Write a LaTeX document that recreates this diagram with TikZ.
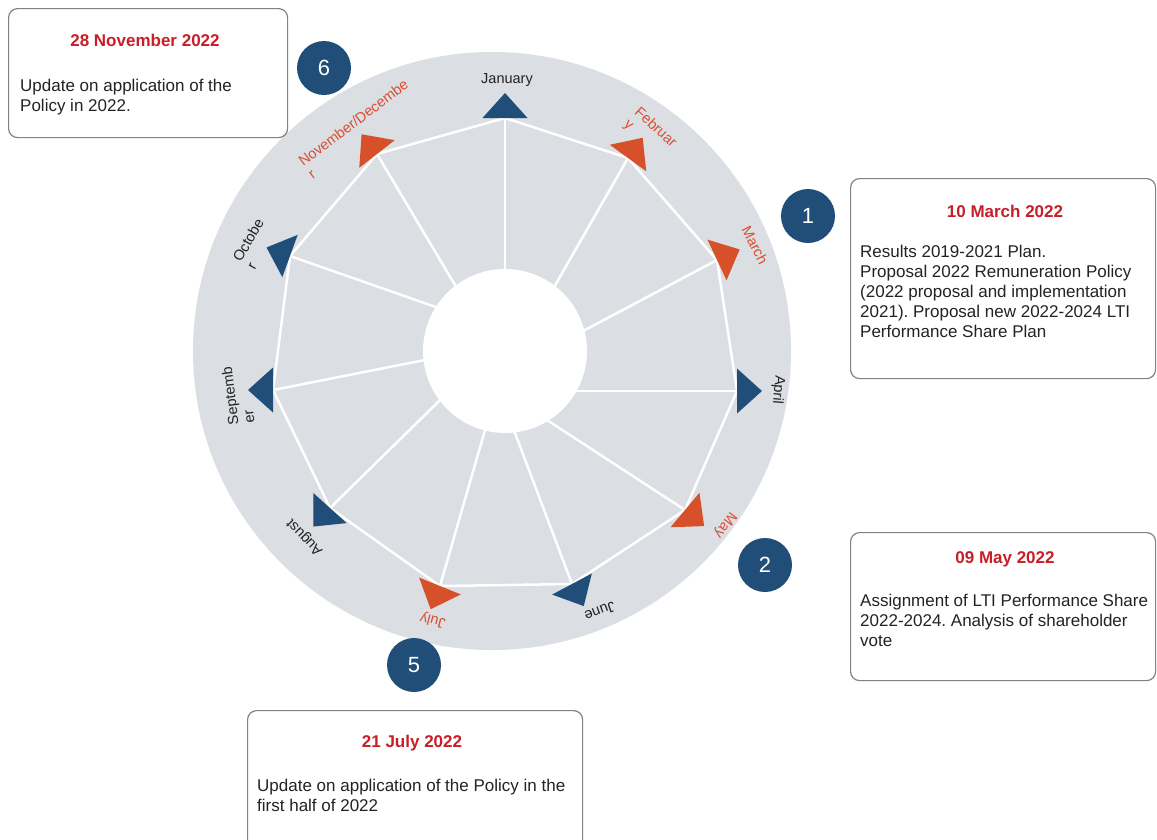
\documentclass[tikz,border=0pt]{standalone}
\usepackage{fontspec}
\setmainfont{Liberation Sans}
\usetikzlibrary{calc}
\frenchspacing
\definecolor{diskgrey}{RGB}{219,222,226}
\definecolor{wblue}{RGB}{33,78,120}
\definecolor{wred}{RGB}{214,80,42}
\definecolor{lred}{RGB}{218,78,50}
\definecolor{hred}{RGB}{200,30,40}
\definecolor{btext}{RGB}{35,35,35}
\definecolor{bframe}{RGB}{130,130,130}
\newcommand\monthtri[3]{\fill[#3] ($(#1)+({#2}:25)$) -- ($(#1)+({#2+90}:22.5)$) -- ($(#1)+({#2-90}:22.5)$) -- cycle;}
\begin{document}
\begin{tikzpicture}[x=1pt,y=-1pt,
  monthlab/.style={font=\fontsize{14.5}{16}\selectfont, inner sep=0pt, align=left, text=btext},
  boxframe/.style={draw=bframe, line width=1.2pt, rounded corners=9pt, fill=white, anchor=north west, inner sep=0pt},
  numdot/.style={circle, fill=wblue, minimum size=54pt, inner sep=0pt, text=white, font=\fontsize{22}{24}\selectfont},
  head/.style={font=\bfseries\fontsize{17}{20}\selectfont, text=hred, inner sep=0pt},
  body/.style={font=\fontsize{17}{20}\selectfont, text=btext, align=left, anchor=north west, inner sep=0pt},
  spoke/.style={white, line width=2.5pt}]
\useasboundingbox (0,0) rectangle (1157,839);
\clip (0,0) rectangle (1157,839);
\fill[white] (0,0) rectangle (1157,839);
% disk
\fill[diskgrey] (492,351) circle[radius=299pt];
% vertices
\coordinate (jan) at (505,118);
\coordinate (feb) at (628,158);
\coordinate (mar) at (717,260);
\coordinate (apr) at (737,391);
\coordinate (may) at (685,510);
\coordinate (jun) at (572,584);
\coordinate (jul) at (440,586);
\coordinate (aug) at (330,508);
\coordinate (sep) at (273,390);
\coordinate (oct) at (290,256);
\coordinate (nov) at (377,154);
% spoke inner ends
\coordinate (janE) at (505,275);
\coordinate (febE) at (557,282);
\coordinate (marE) at (585,330);
\coordinate (aprE) at (585,391);
\coordinate (mayE) at (550,422);
\coordinate (junE) at (515,433);
\coordinate (julE) at (483,437);
\coordinate (augE) at (433,407);
\coordinate (sepE) at (425,360);
\coordinate (octE) at (430,305);
\coordinate (novE) at (455,285);
\coordinate (ic) at (505,351);
% polygon and spokes
\draw[spoke] (jan) -- (feb) -- (mar) -- (apr) -- (may) -- (jun) -- (jul) -- (aug) -- (sep) -- (oct) -- (nov) -- cycle;
\foreach \m in {jan,feb,mar,apr,may,jun,jul,aug,sep,oct,nov}
  \draw[spoke] (\m) -- ($(\m)!1.1!(\m E)$);
% inner circle
\fill[white] (ic) circle[radius=82pt];
% triangles
\monthtri{jan}{-90}{wblue}
\monthtri{feb}{-54}{wred}
\monthtri{mar}{-25}{wred}
\monthtri{apr}{0}{wblue}
\monthtri{may}{40}{wred}
\monthtri{jun}{62}{wblue}
\monthtri{jul}{112}{wred}
\monthtri{aug}{132}{wblue}
\monthtri{sep}{180}{wblue}
\monthtri{oct}{200}{wblue}
\monthtri{nov}{232}{wred}
% month labels
\node[monthlab] (ljan) at (507,80) {January};
\node[monthlab, text=lred, rotate=-42] (lfeb) at (650,134) {Februar\\y};
\node[monthlab, text=lred, rotate=-63] (lmar) at (755,245) {March};
\node[monthlab, rotate=-95] (lapr) at (778,390) {April};
\node[monthlab, text=lred, rotate=-127] (lmay) at (725,525) {May};
\node[monthlab, rotate=-160] (ljun) at (600,611) {June};
\node[monthlab, text=lred, rotate=166] (ljul) at (433,620) {July};
\node[monthlab, rotate=134] (laug) at (305,537) {August};
\node[monthlab, rotate=97] (lsep) at (238,395) {Septemb\\er};
\node[monthlab, rotate=60] (loct) at (255,244) {Octobe\\r};
\node[monthlab, text=lred, rotate=37] (lnov) at (358,129) {November/Decembe\\r};
% number dots
\node[numdot] (n6) at (324,68) {6};
\node[numdot] (n1) at (808,216) {1};
\node[numdot] (n2) at (765,565) {2};
\node[numdot] (n5) at (414,665) {5};
% boxes
\node[boxframe, minimum width=279pt, minimum height=129pt] (b6) at (8,8) {};
\node[head] (h6) at (145,40) {28 November 2022};
\node[body] (t6) at (20,78.5) {Update on application of the\\Policy in 2022.};
\node[boxframe, minimum width=305pt, minimum height=200pt] (b1) at (850,178) {};
\node[head] (h1) at (1005,211) {10 March 2022};
\node[body] (t1) at (860,244.5) {Results 2019-2021 Plan.\\Proposal 2022 Remuneration Policy\\(2022 proposal and implementation\\2021). Proposal new 2022-2024 LTI\\Performance Share Plan};
\node[boxframe, minimum width=305pt, minimum height=148pt] (b2) at (850,532) {};
\node[head] (h2) at (1005,559) {09 May 2022};
\node[body] (t2) at (860,593.5) {Assignment of LTI Performance Share\\2022-2024. Analysis of shareholder\\vote};
\node[boxframe, minimum width=335pt, minimum height=145pt] (b5) at (247,710) {};
\node[head] (h5) at (412,743) {21 July 2022};
\node[body] (t5) at (257,778.5) {Update on application of the Policy in the\\first half of 2022};
\end{tikzpicture}
\end{document}
